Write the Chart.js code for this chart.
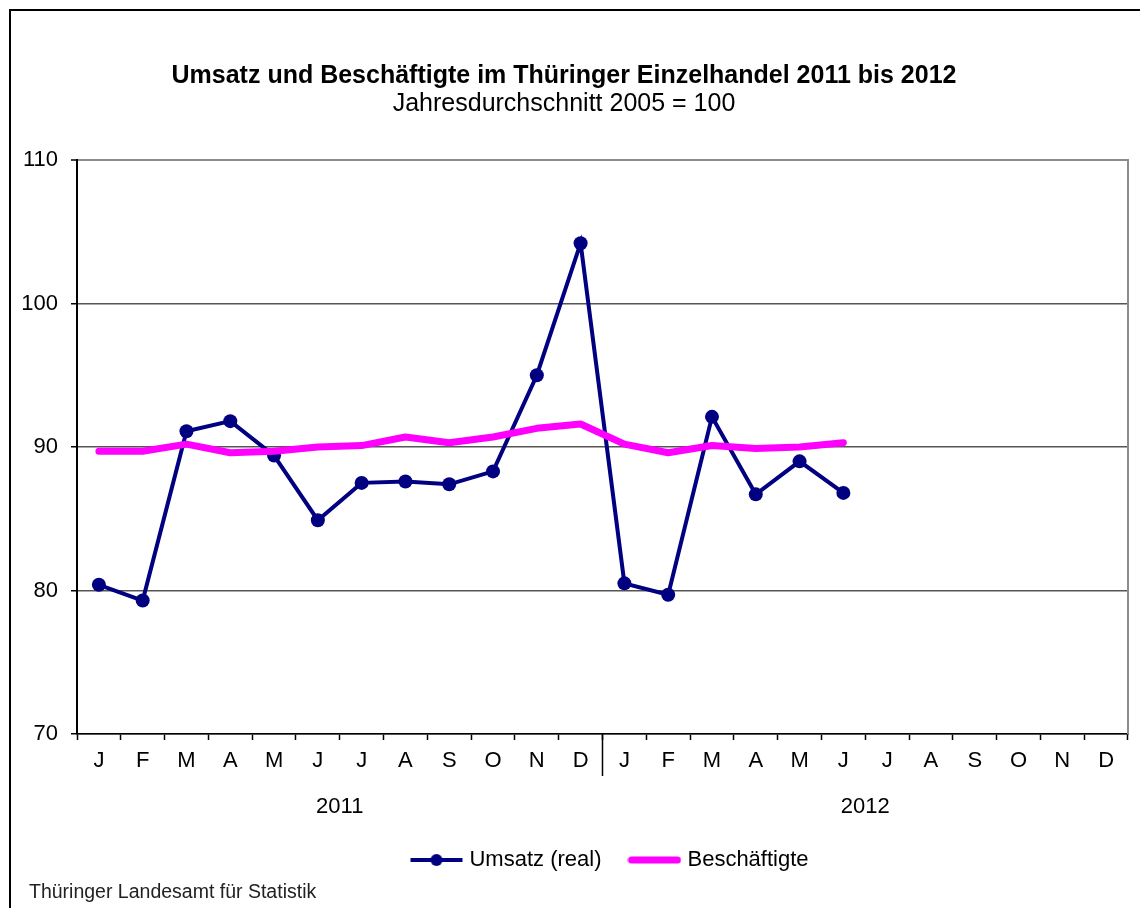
<!DOCTYPE html>
<html><head><meta charset="utf-8">
<script src="https://cdn.jsdelivr.net/npm/chart.js@4.4.0/dist/chart.umd.min.js"></script>
<style>html,body{margin:0;padding:0;background:#fff;}</style>
</head><body>
<canvas id="c" width="1140" height="908"></canvas>
<script>
const months = ['J','F','M','A','M','J','J','A','S','O','N','D','J','F','M','A','M','J','J','A','S','O','N','D'];
const years = ['2011','2012'];
const umsatz = [80.4,79.3,91.1,91.8,89.4,84.9,87.5,87.6,87.4,88.3,95.0,104.2,80.5,79.7,92.1,86.7,89.0,86.8];
const beschaeftigte = [89.7,89.7,90.2,89.6,89.7,90.0,90.1,90.7,90.3,90.7,91.3,91.6,90.2,89.6,90.1,89.9,90.0,90.3];
const yMin = 70, yMax = 110, yStep = 10;
const titleText = 'Umsatz und Beschäftigte im Thüringer Einzelhandel 2011 bis 2012';
const subtitleText = 'Jahresdurchschnitt 2005 = 100';
const footerText = 'Thüringer Landesamt für Statistik';
const seriesNames = ['Umsatz (real)','Beschäftigte'];

const FONT = "'Liberation Sans', Arial, sans-serif";
const NAVY = '#000080', PINK = '#FF00FF';

function legendSym(color, lw, dot, cap) {
  const c = document.createElement('canvas');
  c.width = 54; c.height = 16;
  const g = c.getContext('2d');
  g.strokeStyle = color; g.lineWidth = lw; g.lineCap = cap;
  g.beginPath(); g.moveTo(cap === 'round' ? 4 : 1, 8); g.lineTo(cap === 'round' ? 50 : 53, 8); g.stroke();
  if (dot) { g.fillStyle = color; g.beginPath(); g.arc(27, 8, 6, 0, Math.PI * 2); g.fill(); }
  return c;
}
const syms = [legendSym(NAVY, 4, true, 'butt'), legendSym(PINK, 7, false, 'round')];

const deco = {
  id: 'deco',
  beforeDraw(chart) {
    const ctx = chart.ctx;
    ctx.save();
    ctx.fillStyle = '#fff';
    ctx.fillRect(0, 0, chart.width, chart.height);
    ctx.strokeStyle = '#000'; ctx.lineWidth = 2;
    ctx.strokeRect(10, 10, chart.width + 50, chart.height + 50);
    ctx.restore();
  },
  beforeDatasetsDraw(chart) {
    const ctx = chart.ctx, a = chart.chartArea;
    ctx.save();
    ctx.strokeStyle = '#8c8c8c'; ctx.lineWidth = 2;
    ctx.beginPath(); ctx.moveTo(a.right, a.top - 1); ctx.lineTo(a.right, a.bottom); ctx.stroke();
    ctx.restore();
  },
  afterDraw(chart) {
    const ctx = chart.ctx, a = chart.chartArea, x = chart.scales.x;
    ctx.save();
    const sepX = (x.getPixelForValue(11) + x.getPixelForValue(12)) / 2;
    ctx.strokeStyle = '#000'; ctx.lineWidth = 1.5;
    ctx.beginPath(); ctx.moveTo(sepX, a.bottom); ctx.lineTo(sepX, a.bottom + 42); ctx.stroke();
    ctx.fillStyle = '#000';
    ctx.font = '22px ' + FONT;
    ctx.textAlign = 'center'; ctx.textBaseline = 'middle';
    years.forEach((y, i) => {
      const cx = (x.getPixelForValue(i * 12) + x.getPixelForValue(i * 12 + 11)) / 2;
      ctx.fillText(y, cx, a.bottom + 73);
    });
    ctx.font = '19.5px ' + FONT;
    ctx.fillStyle = '#222';
    ctx.textAlign = 'left';
    ctx.fillText(footerText, 29, 893);
    ctx.restore();
  },
  afterLayout(chart) {
    if (chart.legend) { chart.legend.left += 9; chart.legend.right += 9; }
  }
};

new Chart(document.getElementById('c'), {
  type: 'line',
  data: {
    labels: months,
    datasets: [
      { label: seriesNames[0], data: umsatz, borderColor: NAVY, backgroundColor: NAVY, borderWidth: 4,
        pointRadius: 7, pointBackgroundColor: NAVY, pointBorderColor: NAVY, pointBorderWidth: 0,
        tension: 0, order: 1 },
      { label: seriesNames[1], data: beschaeftigte, borderColor: PINK, backgroundColor: PINK, borderWidth: 7,
        pointRadius: 0, borderCapStyle: 'round', borderJoinStyle: 'round', tension: 0, order: 0 }
    ]
  },
  options: {
    responsive: false,
    animation: false,
    devicePixelRatio: 1,
    layout: { padding: { left: 0, right: 12, top: 0, bottom: 27 } },
    plugins: {
      title: { display: true, text: titleText, color: '#000',
        font: { family: FONT, size: 25, weight: 'bold', lineHeight: 1 }, padding: { top: 64, bottom: 3 } },
      subtitle: { display: true, text: subtitleText, color: '#000',
        font: { family: FONT, size: 25, weight: 'normal', lineHeight: 1 }, padding: { top: 0, bottom: 43 } },
      legend: { display: true, position: 'bottom', fullSize: false,
        labels: { color: '#000', font: { family: FONT, size: 22 }, padding: 31,
          usePointStyle: true, pointStyleWidth: 44,
          sort: (a, b) => a.datasetIndex - b.datasetIndex,
          generateLabels(chart) {
            const items = Chart.defaults.plugins.legend.labels.generateLabels(chart);
            items.forEach((it) => { it.pointStyle = syms[it.datasetIndex]; it.lineWidth = 0; });
            return items;
          } } },
      tooltip: { enabled: false }
    },
    scales: {
      x: {
        offset: true,
        grid: { offset: true, drawOnChartArea: false, drawTicks: true, tickLength: 6, tickColor: '#000', tickWidth: 1.5 },
        border: { display: true, color: '#000', width: 1.5 },
        ticks: { color: '#000', font: { family: FONT, size: 22 }, padding: 8, autoSkip: false, maxRotation: 0 },
        afterFit(s) { s.height = 84; }
      },
      y: {
        min: yMin, max: yMax,
        grid: { drawTicks: true, tickLength: 6,
          color: (c) => c.tick && c.tick.value === yMax ? '#8c8c8c' : '#555',
          lineWidth: (c) => c.tick && c.tick.value === yMax ? 2 : 1.5,
          tickColor: '#000', tickWidth: 1.5 },
        border: { display: true, color: '#000', width: 2 },
        ticks: { stepSize: yStep, color: '#000', font: { family: FONT, size: 22 }, padding: 13 },
        afterFit(s) { s.width = 77; }
      }
    }
  },
  plugins: [deco]
});
</script>
</body></html>
